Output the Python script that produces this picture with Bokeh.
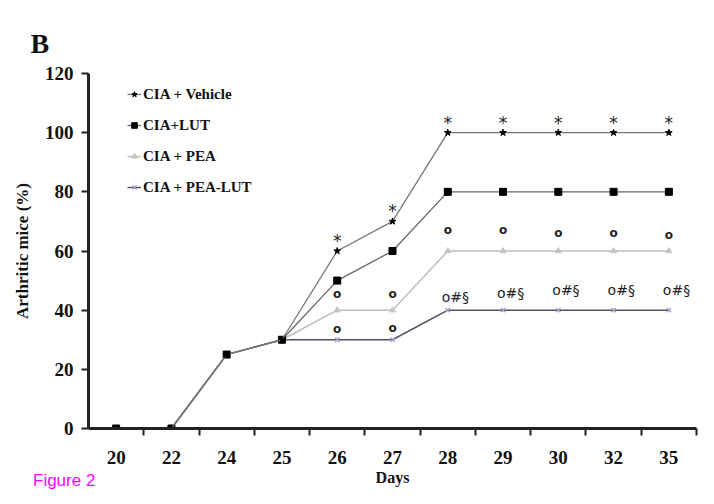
from bokeh.plotting import figure
from bokeh.layouts import column
from bokeh.models import FactorRange, Range1d, LinearAxis, FixedTicker, Div
from bokeh.core.properties import value
from bokeh.embed import file_html
from bokeh.resources import INLINE

days = ["20", "22", "24", "25", "26", "27", "28", "29", "30", "32", "35"]
vehicle = [0, 0, 25, 30, 60, 70, 100, 100, 100, 100, 100]
lut = [0, 0, 25, 30, 50, 60, 80, 80, 80, 80, 80]
pea = [0, 0, 25, 30, 40, 40, 60, 60, 60, 60, 60]
pea_lut = [0, 0, 25, 30, 30, 30, 40, 40, 40, 40, 40]

star_days = ["26", "27", "28", "29", "30", "32", "35"]
star_y = [60, 70, 100, 100, 100, 100, 100]
o_days = ["26", "26", "27", "27", "28", "29", "30", "32", "35"]
o_y = [45.5, 33.5, 45.5, 34, 67, 67, 66.2, 66.2, 65.5]
ohs_days = ["28", "29", "30", "32", "35"]
ohs_y = [44.5, 45.8, 46.8, 46.8, 46.8]
y_ticks = [0, 20, 40, 60, 80, 100, 120]

SERIF = "Liberation Serif"

p = figure(x_range=FactorRange(*days), y_range=Range1d(0, 120),
           width=698, height=488, output_backend="svg", toolbar_location=None,
           x_axis_location=None, min_border_left=88, min_border_right=2,
           min_border_top=73, min_border_bottom=56, title="B")
p.grid.visible = False
p.outline_line_color = None
p.background_fill_color = "white"

p.title.align = "left"
p.title.offset = -58
p.title.standoff = 30
p.title.text_font = SERIF
p.title.text_font_style = "bold"
p.title.text_font_size = "28px"
p.title.text_color = "#111111"

# y axis styling
ya = p.yaxis[0]
ya.ticker = FixedTicker(ticks=y_ticks)
ya.axis_label = "Arthritic mice (%)"
ya.axis_label_text_font = SERIF
ya.axis_label_text_font_style = "bold"
ya.axis_label_text_font_size = "17px"
ya.axis_label_text_color = "#111111"
ya.axis_label_standoff = 10
ya.major_label_text_font = SERIF
ya.major_label_text_font_style = "bold"
ya.major_label_text_font_size = "19px"
ya.major_label_text_color = "#111111"
ya.axis_line_width = 3
ya.axis_line_color = "#222222"
ya.major_tick_line_width = 2
ya.major_tick_line_color = "#222222"
ya.major_tick_out = 7
ya.major_tick_in = 0
ya.minor_tick_line_color = None
ya.major_label_standoff = 8

# x axis: labels at category centres (major), tick marks at category boundaries (minor)
n = len(days)
centres = [i + 0.5 for i in range(n)]
bounds = list(range(1, n + 1))
xa = LinearAxis(ticker=FixedTicker(ticks=centres, minor_ticks=bounds),
                major_label_overrides={c: d for c, d in zip(centres, days)},
                major_tick_line_color=None, major_tick_out=7, major_tick_in=0,
                minor_tick_line_color="#222222", minor_tick_line_width=2,
                minor_tick_out=7, minor_tick_in=0,
                axis_line_width=3, axis_line_color="#222222",
                major_label_standoff=15,
                major_label_text_font=SERIF, major_label_text_font_style="bold",
                major_label_text_font_size="19px", major_label_text_color="#111111",
                axis_label="Days", axis_label_text_font=SERIF,
                axis_label_text_font_style="bold", axis_label_text_font_size="16px",
                axis_label_standoff=2, axis_label_text_color="#111111")
p.add_layout(xa, "below")

# series
p.line(days, pea_lut, line_color="#555060", line_width=1.5, legend_label="CIA + PEA-LUT")
p.scatter(days, pea_lut, marker="x", size=6, line_color="#a89fd0", line_width=1.5,
          legend_label="CIA + PEA-LUT")
p.line(days, pea, line_color="#bdbdbd", line_width=1.5, legend_label="CIA + PEA")
p.scatter(days, pea, marker="triangle", size=6, fill_color="#c4c4c4", line_color="#c4c4c4",
          legend_label="CIA + PEA")
p.line(days, lut, line_color="#666666", line_width=1.3, legend_label="CIA+LUT")
p.scatter(days, lut, marker="square", size=7, fill_color="black", line_color="black",
          legend_label="CIA+LUT")
p.line(days, vehicle, line_color="#777777", line_width=1.3, legend_label="CIA + Vehicle")
p.scatter(days, vehicle, marker="star", size=7, fill_color="black", line_color="black",
          legend_label="CIA + Vehicle")

# significance annotations
p.text(star_days, star_y, text=["*"] * len(star_days), text_font=value("DejaVu Sans"),
       text_font_size="17px", text_align="center", text_baseline="middle", y_offset=-10,
       text_color="#222222")
p.text(o_days, o_y, text=["o"] * len(o_days), text_font=value("DejaVu Sans"),
       text_font_size="12px", text_font_style="bold", text_align="center",
       text_baseline="middle", text_color="#222222")
p.text(ohs_days, ohs_y, text=["o#§"] * len(ohs_days), text_font=value("DejaVu Sans"),
       text_font_size="14px", text_align="left", text_baseline="middle", x_offset=-6,
       text_color="#222222")

# legend
lg = p.legend[0]
lg.items = list(reversed(lg.items))
lg.location = (39, 230)
lg.label_text_font = SERIF
lg.label_text_font_style = "bold"
lg.label_text_font_size = "15px"
lg.label_text_color = "#111111"
lg.glyph_width = 14
lg.glyph_height = 22
lg.label_height = 22
lg.label_standoff = 2
lg.spacing = 9
lg.padding = 0
lg.border_line_color = None
lg.background_fill_alpha = 0

caption = Div(text="Figure 2", width=120, height=20, margin=(-17, 0, 0, 33),
              styles={"color": "#ff00ff", "font-family": "Liberation Sans",
                      "font-size": "17px", "line-height": "20px"})

layout = column(p, caption, spacing=0)
open("out.html", "w").write(file_html(layout, INLINE))
